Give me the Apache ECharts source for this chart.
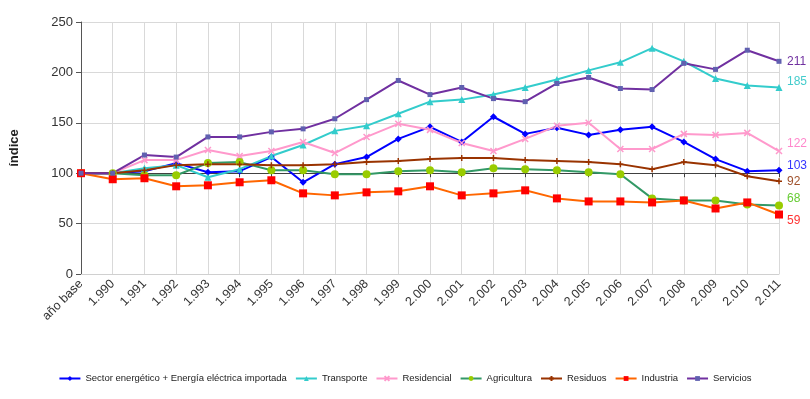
<!DOCTYPE html>
<html>
<head>
<meta charset="utf-8">
<script src="https://cdn.jsdelivr.net/npm/echarts@6/dist/echarts.min.js"></script>
<style>
html, body { margin: 0; padding: 0; background: #fff; }
#chart { width: 810px; height: 399px; }
</style>
</head>
<body>
<div id="chart"></div>
<script>
var myChart = echarts.init(document.getElementById('chart'));

var years = ['año base', '1.990', '1.991', '1.992', '1.993', '1.994', '1.995', '1.996', '1.997', '1.998', '1.999',
    '2.000', '2.001', '2.002', '2.003', '2.004', '2.005', '2.006', '2.007', '2.008', '2.009', '2.010', '2.011'];

var energetico = [100, 100, 102, 110, 101, 102, 116, 91, 109, 116, 134, 146, 131, 156, 139, 145, 138, 143, 146, 131, 114, 102, 103];
var transporte = [100, 100, 105, 108, 96, 104, 117, 128, 142, 147, 159, 171, 173, 178, 185, 193, 202, 210, 224, 211, 194, 187, 185];
var residencial = [100, 100, 113, 113, 123, 117, 122, 131, 120, 136, 149, 143, 130, 122, 134, 147, 150, 124, 124, 139, 138, 140, 122];
var agricultura = [100, 100, 98, 98, 110, 111, 103, 103, 99, 99, 102, 103, 101, 105, 104, 103, 101, 99, 75, 73, 73, 69, 68];
var residuos = [100, 100, 103, 108, 109, 109, 108, 108, 109, 111, 112, 114, 115, 115, 113, 112, 111, 109, 104, 111, 108, 97, 92];
var industria = [100, 94, 95, 87, 88, 91, 93, 80, 78, 81, 82, 87, 78, 80, 83, 75, 72, 72, 71, 73, 65, 71, 59];
var servicios = [100, 100, 118, 116, 136, 136, 141, 144, 154, 173, 192, 178, 185, 174, 171, 189, 195, 184, 183, 209, 203, 222, 211];

var crossPath = 'path://M0,0L10,10M10,0L0,10';
var plusPath = 'path://M5,0L5,10M0,5L10,5';

function mkSeries(name, data, lineColor, symbol, symbolSize, markerColor, labelColor, labelDy) {
    return {
        name: name,
        type: 'line',
        data: data,
        symbol: symbol,
        symbolSize: symbolSize,
        showAllSymbol: true,
        lineStyle: { color: lineColor, width: 2 },
        itemStyle: { color: markerColor, borderColor: markerColor, borderWidth: (symbol === crossPath || symbol === plusPath) ? 1.5 : 0 },
        endLabel: {
            show: true,
            color: labelColor,
            fontSize: 12,
            fontFamily: 'Liberation Sans',
            distance: 8,
            offset: [0, labelDy],
            formatter: function (p) { return Math.round(p.value); }
        },
        animation: false
    };
}

var series = [
    mkSeries('Sector energético + Energía eléctrica importada', energetico, '#0000ff', 'diamond', 7, '#0000ff', '#3333ff', -4),
    mkSeries('Transporte', transporte, '#33cccc', 'triangle', 7, '#33cccc', '#44cccc', -6),
    mkSeries('Residencial', residencial, '#ff99cc', crossPath, 6, '#ff99cc', '#ff88cc', -7),
    mkSeries('Agricultura', agricultura, '#339966', 'circle', 8, '#99cc00', '#66cc33', -7),
    mkSeries('Residuos', residuos, '#993300', plusPath, 6, '#993300', '#a0522d', 0),
    mkSeries('Industria', industria, '#ff6600', 'rect', 8, '#ff0000', '#ff3333', 6),
    mkSeries('Servicios', servicios, '#7030a0', 'rect', 5, '#6060b0', '#7030a0', 0)
];

var option = {
    backgroundColor: '#ffffff',
    textStyle: { fontFamily: 'Liberation Sans' },
    grid: { left: 80, right: 31, top: 22, bottom: 125 },
    legend: {
        bottom: 10.5,
        left: 'center',
        itemWidth: 21,
        itemHeight: 6,
        itemGap: 8,
        textStyle: { fontSize: 9.5, color: '#222', fontFamily: 'Liberation Sans Narrow, Liberation Sans' },
        data: series.map(function (s) { return s.name; })
    },
    xAxis: [{
        type: 'category',
        data: years,
        boundaryGap: false,
        axisLine: { lineStyle: { color: '#d0d0d0' } },
        axisTick: { show: false },
        axisLabel: { rotate: 45, color: '#333', fontSize: 12.5, interval: 0, margin: 8 },
        splitLine: { show: true, lineStyle: { color: '#d9d9d9', width: 1 } }
    }, {
        // dark crossing line at index 100
        type: 'category',
        data: years,
        boundaryGap: false,
        position: 'bottom',
        offset: -100.8,
        axisLine: { lineStyle: { color: '#404040', width: 1 } },
        axisTick: { show: true, length: 4, interval: 0, lineStyle: { color: '#404040' } },
        axisLabel: { show: false },
        splitLine: { show: false }
    }],
    yAxis: {
        type: 'value',
        min: 0,
        max: 250,
        interval: 50,
        name: 'índice',
        nameLocation: 'middle',
        nameGap: 60,
        nameRotate: 90,
        nameTextStyle: { fontSize: 13, fontWeight: 'bold', color: '#222' },
        axisLine: { show: true, lineStyle: { color: '#555' } },
        axisTick: { show: true, length: 5, lineStyle: { color: '#555' } },
        axisLabel: { color: '#333', fontSize: 13, margin: 8 },
        splitLine: { lineStyle: { color: '#d9d9d9', width: 1 } }
    },
    series: series
};

myChart.setOption(option);
</script>
</body>
</html>
